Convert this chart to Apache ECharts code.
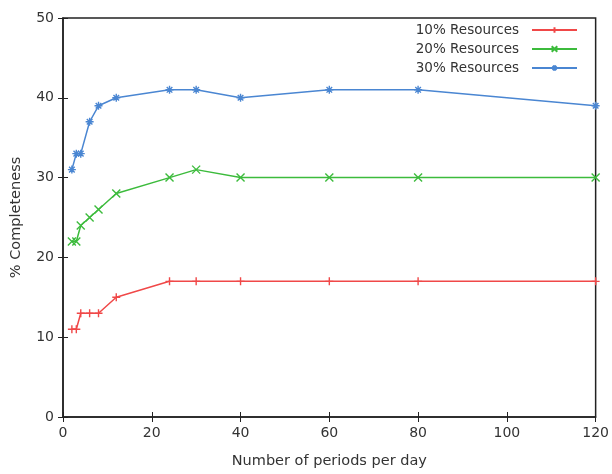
<!DOCTYPE html>
<html>
<head>
<meta charset="utf-8">
<script src="https://cdn.jsdelivr.net/npm/echarts@6/dist/echarts.min.js"></script>
<style>html,body{margin:0;padding:0;background:#fff}#c{width:612px;height:474px}</style>
</head>
<body>
<div id="c"></div>
<script>
var periods = [2, 3, 4, 6, 8, 12, 24, 30, 40, 60, 80, 120];
var res10 = [11, 11, 13, 13, 13, 15, 17, 17, 17, 17, 17, 17];
var res20 = [22, 22, 24, 25, 26, 28, 30, 31, 30, 30, 30, 30];
var res30 = [31, 33, 33, 37, 39, 40, 41, 41, 40, 41, 41, 39];
var seriesNames = ['10% Resources', '20% Resources', '30% Resources'];
var xTicks = [0, 20, 40, 60, 80, 100, 120];
var yTicks = [0, 10, 20, 30, 40, 50];

var colors = ['#f04848', '#3cbb3c', '#4a86d2'];
var symPlus = 'path://M0,5L10,5M5,0L5,10';
var symX = 'path://M0,0L10,10M0,10L10,0';
var symStar = 'path://M0,5L10,5M5,0L5,10M1.5,1.5L8.5,8.5M1.5,8.5L8.5,1.5';
var syms = [symPlus, symX, symStar];
var datas = [res10, res20, res30];

function mk(i) {
  return {
    name: seriesNames[i],
    type: 'line',
    data: periods.map(function (p, k) { return [p, datas[i][k]]; }),
    symbol: syms[i],
    symbolSize: 8,
    showAllSymbol: true,
    lineStyle: { color: colors[i], width: 1.5 },
    itemStyle: { color: colors[i], borderColor: colors[i], borderWidth: 1.4 },
    emphasis: { disabled: true },
    animation: false
  };
}

var font = 'DejaVu Sans';
var chart = echarts.init(document.getElementById('c'));
chart.setOption({
  backgroundColor: '#fff',
  animation: false,
  textStyle: { fontFamily: font },
  grid: { left: 63, right: 15, top: 18, bottom: 55, show: true, borderColor: '#222', borderWidth: 1.5 },
  legend: {
    orient: 'vertical',
    right: 29,
    top: 18,
    align: 'right',
    itemWidth: 45,
    itemHeight: 7,
    itemGap: 5,
    textStyle: { fontFamily: font, fontSize: 13.5, color: '#333', padding: [0, 8, 0, 0] },
    data: seriesNames
  },
  xAxis: [{
    type: 'value', min: xTicks[0], max: xTicks[xTicks.length - 1], interval: xTicks[1] - xTicks[0],
    name: 'Number of periods per day', nameLocation: 'middle', nameGap: 37,
    nameTextStyle: { fontFamily: font, fontSize: 14.5, color: '#333' },
    axisLine: { show: true, onZero: false, lineStyle: { color: '#222', width: 1.5 } },
    axisTick: { show: true, inside: true, length: 5, lineStyle: { color: '#222' } },
    axisLabel: { fontFamily: font, fontSize: 14, color: '#333', margin: 9 },
    splitLine: { show: false }
  }, {
    type: 'value', position: 'top', min: xTicks[0], max: xTicks[xTicks.length - 1], interval: xTicks[1] - xTicks[0],
    axisLine: { show: false },
    axisTick: { show: true, inside: true, length: 5, lineStyle: { color: '#222' } },
    axisLabel: { show: false }, splitLine: { show: false }
  }],
  yAxis: [{
    type: 'value', min: yTicks[0], max: yTicks[yTicks.length - 1], interval: yTicks[1] - yTicks[0],
    name: '% Completeness', nameLocation: 'middle', nameGap: 39, nameRotate: 90,
    nameTextStyle: { fontFamily: font, fontSize: 14.5, color: '#333' },
    axisLine: { show: true, lineStyle: { color: '#222', width: 1.5 } },
    axisTick: { show: true, inside: true, length: 5, lineStyle: { color: '#222' } },
    axisLabel: { fontFamily: font, fontSize: 14, color: '#333', margin: 9 },
    splitLine: { show: false }
  }, {
    type: 'value', position: 'right', min: yTicks[0], max: yTicks[yTicks.length - 1], interval: yTicks[1] - yTicks[0],
    axisLine: { show: false },
    axisTick: { show: true, inside: true, length: 5, lineStyle: { color: '#222' } },
    axisLabel: { show: false }, splitLine: { show: false }
  }],
  series: [mk(0), mk(1), mk(2)]
});
</script>
</body>
</html>
